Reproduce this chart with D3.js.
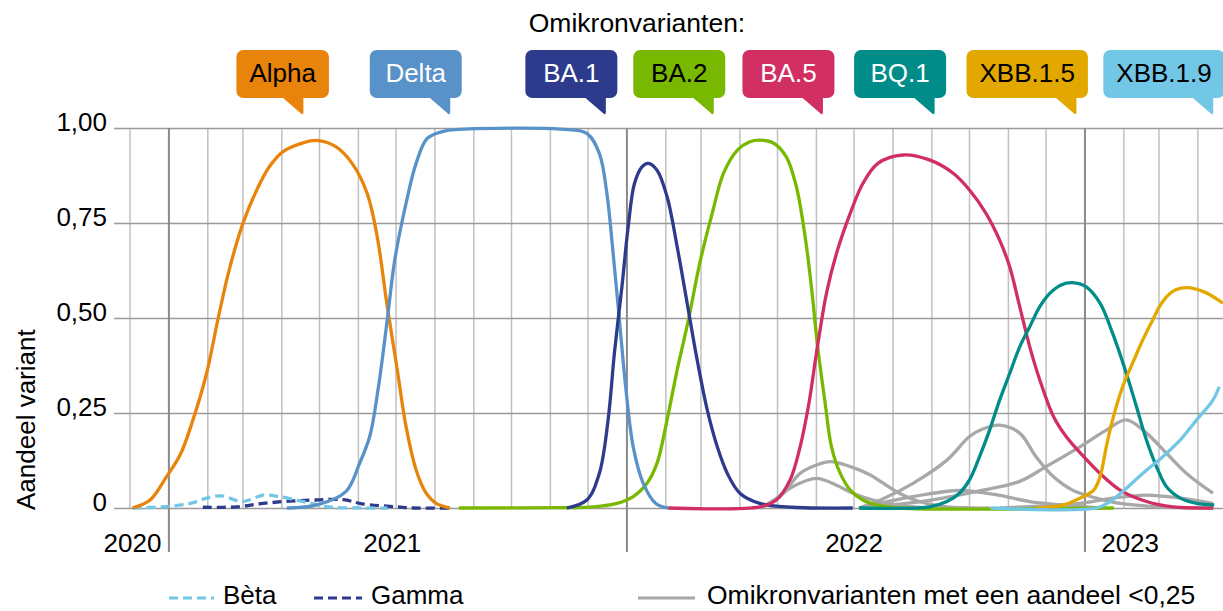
<!DOCTYPE html>
<html>
<head>
<meta charset="utf-8">
<script src="https://cdn.jsdelivr.net/npm/d3@7"></script>
<style>
body { margin: 0; background: #fff; }
text { font-family: "Liberation Sans", Arial, sans-serif; fill: #000; }
</style>
</head>
<body>
<svg id="chart" width="1223" height="611"></svg>
<script>
// share of each variant, [date, share]
var alpha = [["2020-12-03",0],["2020-12-17",0.021],["2020-12-30",0.082],["2021-01-10",0.14],["2021-01-20",0.23],
  ["2021-01-31",0.354],["2021-02-09",0.495],["2021-02-18",0.626],["2021-03-01",0.749],["2021-03-12",0.837],
  ["2021-03-22",0.898],["2021-04-02",0.938],["2021-04-18",0.961],["2021-04-30",0.967],["2021-05-14",0.951],
  ["2021-05-27",0.907],["2021-06-08",0.828],["2021-06-16",0.714],["2021-06-24",0.53],["2021-07-02",0.363],
  ["2021-07-09",0.214],["2021-07-17",0.10],["2021-07-25",0.039],["2021-08-02",0.012],["2021-08-13",0]];
var delta = [["2021-04-05",0],["2021-04-29",0.008],["2021-05-22",0.043],["2021-06-02",0.118],["2021-06-10",0.188],
  ["2021-06-17",0.319],["2021-06-24",0.495],["2021-06-30",0.653],["2021-07-09",0.802],["2021-07-17",0.907],
  ["2021-07-26",0.973],["2021-08-10",0.993],["2021-08-25",0.997],["2021-11-09",0.997],["2021-11-30",0.986],
  ["2021-12-10",0.933],["2021-12-16",0.828],["2021-12-21",0.67],["2021-12-26",0.495],["2021-12-31",0.319],
  ["2022-01-06",0.161],["2022-01-14",0.065],["2022-01-24",0.012],["2022-02-03",0]];
var ba1 = [["2021-11-14",0],["2021-11-30",0.021],["2021-12-10",0.091],["2021-12-17",0.232],["2021-12-22",0.407],
  ["2021-12-28",0.582],["2022-01-02",0.74],["2022-01-07",0.854],["2022-01-13",0.898],["2022-01-18",0.907],
  ["2022-01-25",0.889],["2022-02-02",0.819],["2022-02-10",0.688],["2022-02-18",0.539],["2022-02-26",0.389],
  ["2022-03-06",0.258],["2022-03-14",0.161],["2022-03-22",0.091],["2022-04-01",0.039],["2022-04-17",0.012],
  ["2022-05-13",0.002],["2022-06-30",0]];
var ba2 = [["2021-08-20",0],["2021-11-14",0.001],["2021-12-05",0.003],["2021-12-24",0.012],["2022-01-06",0.03],
  ["2022-01-17",0.065],["2022-01-25",0.118],["2022-02-02",0.232],["2022-02-10",0.363],["2022-02-19",0.495],
  ["2022-02-28",0.644],["2022-03-10",0.776],["2022-03-19",0.881],["2022-03-30",0.942],["2022-04-09",0.964],
  ["2022-04-17",0.968],["2022-04-28",0.96],["2022-05-08",0.924],["2022-05-16",0.846],["2022-05-23",0.714],
  ["2022-05-28",0.582],["2022-06-02",0.424],["2022-06-08",0.275],["2022-06-13",0.161],["2022-06-20",0.091],
  ["2022-06-28",0.047],["2022-07-08",0.021],["2022-07-19",0.008],["2022-08-06",0],["2023-01-24",0]];
var ba5 = [["2022-02-03",0],["2022-04-17",0.003],["2022-04-30",0.021],["2022-05-11",0.074],["2022-05-19",0.161],
  ["2022-05-26",0.275],["2022-06-01",0.407],["2022-06-09",0.565],["2022-06-17",0.67],["2022-06-28",0.776],
  ["2022-07-08",0.854],["2022-07-20",0.907],["2022-08-09",0.929],["2022-08-30",0.916],["2022-09-18",0.881],
  ["2022-10-01",0.837],["2022-10-14",0.776],["2022-10-25",0.705],["2022-11-02",0.635],["2022-11-10",0.53],
  ["2022-11-18",0.424],["2022-11-26",0.337],["2022-12-07",0.24],["2022-12-17",0.188],["2022-12-31",0.135],
  ["2023-01-13",0.091],["2023-01-29",0.047],["2023-02-19",0.017],["2023-03-12",0.003],["2023-04-13",0]];
var bq1 = [["2022-07-05",0],["2022-08-30",0.003],["2022-09-13",0.017],["2022-09-23",0.039],["2022-10-01",0.074],
  ["2022-10-09",0.135],["2022-10-17",0.205],["2022-10-25",0.284],["2022-11-02",0.354],["2022-11-10",0.424],
  ["2022-11-18",0.477],["2022-11-26",0.53],["2022-12-04",0.565],["2022-12-13",0.587],["2022-12-22",0.593],
  ["2023-01-02",0.582],["2023-01-13",0.539],["2023-01-23",0.46],["2023-02-03",0.354],["2023-02-11",0.267],
  ["2023-02-19",0.179],["2023-02-27",0.109],["2023-03-07",0.056],["2023-03-18",0.026],["2023-03-31",0.012],["2023-04-14",0.008]];
var xbb15 = [["2022-11-23",0],["2022-12-15",0.008],["2022-12-28",0.026],["2023-01-08",0.047],["2023-01-13",0.082],
  ["2023-01-18",0.161],["2023-01-23",0.232],["2023-01-31",0.319],["2023-02-09",0.389],["2023-02-16",0.442],
  ["2023-02-24",0.495],["2023-03-03",0.539],["2023-03-12",0.57],["2023-03-23",0.58],["2023-04-05",0.57],["2023-04-21",0.539]];
var xbb19 = [["2022-10-18",0],["2023-01-10",0],["2023-01-21",0.017],["2023-02-03",0.052],["2023-02-16",0.091],
  ["2023-03-04",0.135],["2023-03-18",0.179],["2023-03-31",0.232],["2023-04-13",0.284],["2023-04-18",0.319]];
var beta = [["2020-12-03",0],["2020-12-27",0.003],["2021-01-18",0.012],["2021-01-31",0.026],["2021-02-12",0.032],
  ["2021-02-27",0.017],["2021-03-06",0.021],["2021-03-17",0.034],["2021-03-30",0.03],["2021-04-18",0.017],
  ["2021-05-09",0.003],["2021-06-05",0],["2021-06-24",0]];
var gamma = [["2021-01-28",0.002],["2021-02-24",0.003],["2021-03-17",0.012],["2021-04-07",0.018],["2021-04-28",0.021],
  ["2021-05-20",0.022],["2021-06-04",0.011],["2021-07-02",0.003],["2021-07-15",0],["2021-08-14",0]];
// small omicron variants (<0,25)
var small1 = [["2022-04-17",0],["2022-05-03",0.03],["2022-05-19",0.091],["2022-06-01",0.113],["2022-06-12",0.122],
  ["2022-06-28",0.109],["2022-07-14",0.087],["2022-07-22",0.07],["2022-08-06",0.039],["2022-08-22",0.017],
  ["2022-09-13",0.003],["2022-10-17",0]];
var small2 = [["2022-04-17",0],["2022-04-28",0.021],["2022-05-13",0.056],["2022-06-01",0.078],["2022-06-17",0.06],
  ["2022-06-30",0.039],["2022-07-16",0.021],["2022-08-06",0.007],["2022-08-30",0]];
var small3 = [["2022-07-05",0],["2022-07-22",0.021],["2022-08-17",0.065],["2022-09-13",0.126],["2022-10-01",0.188],
  ["2022-10-11",0.207],["2022-10-25",0.218],["2022-11-10",0.197],["2022-11-23",0.135],["2022-12-07",0.082],
  ["2022-12-22",0.047],["2023-01-10",0.026],["2023-01-29",0.012],["2023-03-02",0.003],["2023-04-14",0]];
var small4 = [["2022-07-05",0],["2022-08-06",0.01],["2022-08-30",0.02],["2022-10-09",0.045],["2022-11-10",0.07],
  ["2022-12-01",0.109],["2022-12-28",0.161],["2023-01-18",0.205],["2023-02-03",0.232],["2023-02-19",0.197],
  ["2023-03-07",0.144],["2023-03-23",0.091],["2023-04-13",0.039]];
var small5 = [["2022-07-05",0],["2022-08-17",0.03],["2022-09-23",0.046],["2022-10-24",0.034],["2022-11-18",0.017],
  ["2022-12-14",0.008],["2023-01-13",0]];
var small6 = [["2022-10-25",0],["2022-11-26",0.005],["2022-12-28",0.012],["2023-01-23",0.026],["2023-02-19",0.034],
  ["2023-03-18",0.026],["2023-04-13",0.012]];

var yTicks = [0, 0.25, 0.5, 0.75, 1];
var yTickLabels = ["0", "0,25", "0,50", "0,75", "1,00"];
var yearLabels = ["2020", "2021", "2022", "2023"];
var yearLabelDates = ["2020-12-03", "2021-06-28", "2022-07-01", "2023-02-06"];
var bubbleNames = ["Alpha", "Delta", "BA.1", "BA.2", "BA.5", "BQ.1", "XBB.1.5", "XBB.1.9"];
var bubbleTips = ["2021-04-17", "2021-08-12", "2021-12-14", "2022-03-10", "2022-06-05", "2022-09-02", "2022-12-24", "2023-04-12"];

var colors = {
  "Alpha": "#e8830b", "Delta": "#5892c9", "BA.1": "#2e3a8c", "BA.2": "#79b800",
  "BA.5": "#d12e62", "BQ.1": "#008c89", "XBB.1.5": "#e2a800", "XBB.1.9": "#72c6e6"
};
var textColors = {
  "Alpha": "#000", "Delta": "#fff", "BA.1": "#fff", "BA.2": "#000",
  "BA.5": "#fff", "BQ.1": "#fff", "XBB.1.5": "#000", "XBB.1.9": "#000"
};
var grey = "#a8a8a8";
var fs = "26px";

var parse = d3.timeParse("%Y-%m-%d");
function prep(arr) { return arr.map(function(d) { return {date: parse(d[0]), v: d[1]}; }); }

var svg = d3.select("#chart"),
    W = 1223,
    plotLeft = 130, plotTop = 128, plotBottom = 508;

var x = d3.scaleTime()
    .domain([parse("2020-12-01"), parse("2023-04-21")])
    .range([plotLeft, W]);

var y = d3.scaleLinear()
    .domain([0, 1])
    .range([plotBottom, plotTop]);

// monthly grid
var months = d3.timeMonth.range(x.domain()[0], x.domain()[1]);
svg.append("g").selectAll("line")
  .data(months.filter(function(d) { return d.getMonth() !== 0; }))
  .enter().append("line")
    .attr("x1", function(d) { return x(d); })
    .attr("x2", function(d) { return x(d); })
    .attr("y1", plotTop).attr("y2", plotBottom)
    .attr("stroke", "#c0c0c0").attr("stroke-width", 1.5);

// horizontal grid + y labels
var yAxis = svg.append("g")
    .attr("transform", "translate(114,0)")
    .call(d3.axisRight(y).tickValues(yTicks).tickSize(W - 114)
      .tickFormat(function(d, i) { return yTickLabels[i]; }));
yAxis.select(".domain").remove();
yAxis.selectAll(".tick line").attr("stroke", "#9a9a9a").attr("stroke-width", 1.3);
yAxis.selectAll(".tick text")
    .attr("x", -7).attr("dy", 2)
    .attr("text-anchor", "end")
    .style("font-size", fs)
    .style("font-family", "'Liberation Sans', Arial, sans-serif")
    .attr("fill", "#000");

// year lines
svg.append("g").selectAll("line")
  .data(months.filter(function(d) { return d.getMonth() === 0; }))
  .enter().append("line")
    .attr("x1", function(d) { return x(d); })
    .attr("x2", function(d) { return x(d); })
    .attr("y1", plotTop).attr("y2", 552)
    .attr("stroke", "#8a8a8a").attr("stroke-width", 2);

svg.append("g").selectAll("text")
  .data(yearLabels)
  .enter().append("text")
    .attr("x", function(d, i) { return x(parse(yearLabelDates[i])); })
    .attr("y", 552)
    .attr("text-anchor", "middle")
    .style("font-size", fs)
    .text(function(d) { return d; });

// y title
svg.append("text")
    .attr("transform", "translate(35,510) rotate(-90)")
    .style("font-size", fs)
    .text("Aandeel variant");

var line = d3.line()
    .x(function(d) { return x(d.date); })
    .y(function(d) { return y(d.v); })
    .curve(d3.curveCatmullRom.alpha(0.5));

var lines = svg.append("g").attr("fill", "none").attr("stroke-width", 3.3).attr("stroke-linecap", "butt");

[small1, small2, small3, small4, small5, small6].forEach(function(s) {
  lines.append("path").attr("d", line(prep(s))).attr("stroke", grey);
});
lines.append("path").attr("d", line(prep(gamma))).attr("stroke", "#2e3a8c").attr("stroke-dasharray", "9,5");
lines.append("path").attr("d", line(prep(beta))).attr("stroke", "#72c6e6").attr("stroke-dasharray", "9,5");

var series = [["BA.2", ba2], ["Alpha", alpha], ["Delta", delta], ["BA.1", ba1], ["BA.5", ba5],
              ["BQ.1", bq1], ["XBB.1.5", xbb15], ["XBB.1.9", xbb19]];
series.forEach(function(s) {
  lines.append("path").attr("d", line(prep(s[1]))).attr("stroke", colors[s[0]]);
});

// title
svg.append("text")
    .attr("x", 637).attr("y", 32)
    .attr("text-anchor", "middle")
    .style("font-size", "26.5px")
    .text("Omikronvarianten:");

// bubbles
var bub = svg.append("g").selectAll("g")
  .data(bubbleNames)
  .enter().append("g");

bub.each(function(name, i) {
  var g = d3.select(this);
  var tip = x(parse(bubbleTips[i]));
  var t = g.append("text")
      .attr("y", 82)
      .attr("text-anchor", "middle")
      .style("font-size", fs)
      .style("fill", textColors[name])
      .text(name);
  var tw = t.node().getComputedTextLength();
  var w = Math.max(92, tw + 26);
  var right = tip + (i === 0 ? 27 : 13);
  g.insert("rect", "text")
      .attr("x", right - w).attr("y", 50)
      .attr("width", w).attr("height", 48)
      .attr("rx", 7)
      .attr("fill", colors[name]);
  g.insert("path", "text")
      .attr("d", "M" + (tip - 20) + ",97L" + (tip + 1.5) + ",97L" + (tip + 1.5) + ",112Q" + (tip + 1.5) + ",116 " + (tip - 1.5) + ",113Z")
      .attr("fill", colors[name]);
  t.attr("x", right - w / 2);
});

// legend
var leg = svg.append("g");
leg.append("line").attr("x1", 169).attr("x2", 214).attr("y1", 598).attr("y2", 598)
   .attr("stroke", "#72c6e6").attr("stroke-width", 3).attr("stroke-dasharray", "9,5");
leg.append("text").attr("x", 223).attr("y", 604).style("font-size", fs).text("Bèta");
leg.append("line").attr("x1", 314).attr("x2", 362).attr("y1", 598).attr("y2", 598)
   .attr("stroke", "#2e3a8c").attr("stroke-width", 3).attr("stroke-dasharray", "9,5");
leg.append("text").attr("x", 371).attr("y", 604).style("font-size", fs).text("Gamma");
leg.append("line").attr("x1", 638).attr("x2", 695).attr("y1", 598).attr("y2", 598)
   .attr("stroke", grey).attr("stroke-width", 3);
leg.append("text").attr("x", 707).attr("y", 604).style("font-size", "26.5px").text("Omikronvarianten met een aandeel <0,25");
</script>
</body>
</html>
